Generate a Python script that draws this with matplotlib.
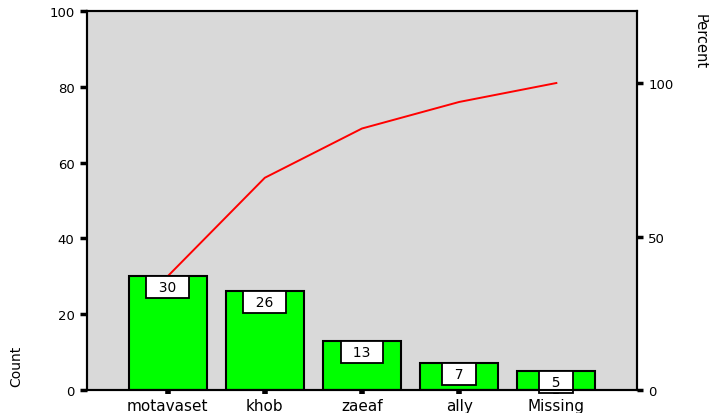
import matplotlib
matplotlib.use('Agg')
import matplotlib.pyplot as plt
import numpy as np

plt.rcParams['font.family'] = ['DejaVu Sans']

categorias = ['motavaset', 'khob', 'zaeaf', 'ally', 'Missing']
contagem = [30, 26, 13, 7, 5]
percent_ticks = [0, 50, 100]

total = sum(contagem)
acumulado = np.cumsum(contagem)

fig = plt.figure(figsize=(7.09, 4.14), dpi=100)
ax = fig.add_axes([87/709, 1 - 391/414, 550/709, 379/414])

x = np.arange(len(categorias))
ax.set_facecolor('#d9d9d9')
ax.bar(x, contagem, width=0.8, color='#00ff00', edgecolor='black', linewidth=1.5, zorder=2)
ax.plot(x, acumulado, color='red', linewidth=1.4, zorder=3)

# caixinhas com os valores
for xi, v in zip(x, contagem):
    t = ax.annotate('  %d  ' % v, (xi, v), xytext=(0, -2.8), textcoords='offset points',
                    ha='center', va='top', fontsize=10, zorder=4,
                    bbox=dict(boxstyle='square,pad=0.28', facecolor='white', edgecolor='black', linewidth=1.3))
    t.set_clip_on(True)

ax.set_xlim(-0.83, 4.83)
ax.set_ylim(0, 100)
ax.set_yticks([0, 20, 40, 60, 80, 100])
ax.set_xticks(x)
ax.set_xticklabels(categorias, fontsize=11)
ax.tick_params(axis='y', direction='out', width=2.5, length=5, labelsize=9.5, pad=4)
ax.tick_params(axis='x', direction='out', width=4, length=3, pad=3)
for s in ax.spines.values():
    s.set_linewidth(1.5)

# eixo da direita em percentual
ax2 = ax.twinx()
ax2.set_ylim(0, 100 * 100 / total)
ax2.set_yticks(percent_ticks)
ax2.tick_params(axis='y', direction='out', width=2.5, length=4, labelsize=9.5, pad=4)
for s in ax2.spines.values():
    s.set_linewidth(1.5)

fig.text(16/709, 1 - 366/414, 'Count', rotation=90, ha='center', va='center', fontsize=10)
fig.text(700/709, 1 - 42/414, 'Percent', rotation=-90, ha='center', va='center', fontsize=10.5)

fig.savefig('out.png', dpi=100)
